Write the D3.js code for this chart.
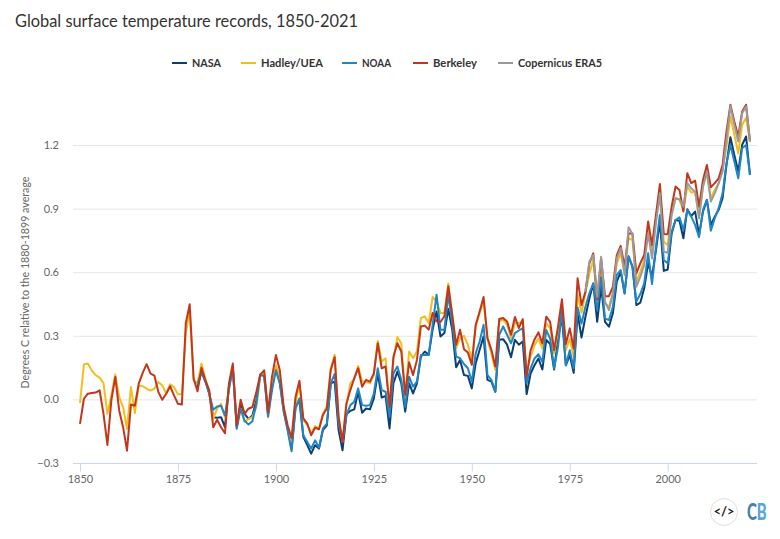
<!DOCTYPE html>
<html><head><meta charset="utf-8">
<script src="https://cdn.jsdelivr.net/npm/d3@7/dist/d3.min.js"></script>
<style>html,body{margin:0;padding:0;background:#fff}svg{display:block}text{font-family:Lato,"Open Sans",sans-serif}</style>
</head><body><svg id="c" width="780" height="539"></svg>
<script>
const title = "Global surface temperature records, 1850-2021";
const yAxisLabel = "Degrees C relative to the 1880-1899 average";
const seriesNames = ["NASA","Hadley/UEA","NOAA","Berkeley","Copernicus ERA5"];
const seriesColors = ["#0b3f73","#f2bd1d","#1e86c6","#c4361c","#9a9a9a"];
const seriesStart = [1880,1850,1880,1850,1979];
const xTicks = [1850,1875,1900,1925,1950,1975,2000];
const yTicks = [-0.3,0,0.3,0.6,0.9,1.2];

const nasa = [.058,.13,.09,.027,-.084,-.087,-.084,-.131,.058,.145,-.131,-.021,-.068,-.092,-.076,-.005,.114,.114,-.068,.058,
.145,.082,-.052,-.139,-.234,-.036,-.003,-.177,-.216,-.256,-.216,-.232,-.145,-.122,.076,.084,-.145,-.24,-.07,-.054,
-.047,.036,-.063,-.043,-.047,.005,.123,.009,.016,-.137,.076,.131,.076,-.058,.076,.028,.076,.202,.226,.21,
.329,.415,.297,.313,.427,.329,.152,.186,.115,.111,.052,.171,.234,.297,.092,.084,.036,.281,.284,.258,
.199,.281,.258,.273,.025,.122,.161,.193,.141,.28,.261,.141,.287,.39,.161,.209,.125,.406,.292,.39,
.476,.547,.366,.531,.366,.343,.406,.555,.602,.5,.673,.626,.445,.456,.524,.642,.579,.705,.839,.606,
.613,.783,.846,.843,.76,.897,.865,.886,.776,.886,.941,.823,.862,.894,.949,1.106,1.237,1.153,1.075,1.201,1.24,1.059];

const hadley = [-.017,.166,.169,.137,.114,.103,.077,-.068,.019,.118,.011,-.036,-.139,.058,-.065,.065,.062,.051,.041,.051,
.082,.066,.027,.071,.058,.024,.024,.311,.422,.09,.077,.169,.098,.027,-.092,-.044,-.021,-.084,.058,.161,
-.115,-.044,-.107,-.092,-.084,-.036,.106,.13,-.084,.074,.161,.106,-.052,-.131,-.202,-.021,.076,-.098,-.122,-.16,
-.126,-.137,-.066,-.035,.147,.21,-.09,-.2,-.027,.076,.095,.158,.084,.084,.076,.115,.276,.179,.194,-.043,
.186,.294,.265,.013,.226,.194,.226,.384,.392,.36,.483,.463,.408,.408,.547,.4,.242,.289,.3,.258,
.186,.344,.408,.463,.281,.218,.139,.368,.376,.352,.289,.36,.36,.368,.123,.201,.256,.287,.24,.358,
.335,.217,.319,.453,.232,.287,.201,.492,.409,.5,.594,.657,.468,.61,.453,.437,.5,.642,.689,.594,
.76,.752,.555,.602,.657,.799,.705,.854,.972,.744,.728,.878,.949,.941,.894,1.004,.976,.98,.862,1.004,
1.067,.949,.988,1.02,1.083,1.193,1.335,1.248,1.161,1.295,1.327,1.217];

const noaa = [.074,.13,.082,.027,-.049,-.033,-.03,-.076,.043,.153,-.139,-.044,-.1,-.118,-.103,-.021,.118,.109,-.081,.043,
.137,.074,-.06,-.147,-.245,-.044,.005,-.169,-.201,-.232,-.193,-.227,-.137,-.114,.076,.12,-.114,-.193,-.074,-.027,
-.011,.052,-.027,-.03,-.027,.028,.147,.044,.036,-.082,.123,.155,.092,-.035,.107,.06,.084,.21,.21,.21,
.352,.494,.329,.329,.494,.36,.202,.194,.167,.147,.084,.218,.273,.352,.115,.092,.036,.305,.344,.305,
.265,.313,.325,.336,.076,.146,.193,.213,.177,.327,.287,.146,.248,.421,.161,.232,.146,.434,.358,.437,
.5,.547,.421,.576,.382,.374,.437,.587,.61,.5,.676,.626,.461,.497,.547,.689,.544,.72,.87,.657,
.642,.791,.846,.859,.799,.894,.862,.823,.765,.894,.941,.796,.854,.902,.972,1.114,1.2,1.122,1.043,1.185,1.2,1.059];

const berkeley = [-.115,.003,.027,.03,.032,.043,-.068,-.215,-.005,.106,-.052,-.131,-.242,-.024,-.03,.074,.125,.166,.122,.112,
.035,-.002,.027,.062,.019,-.021,-.024,.359,.449,.098,.038,.149,.09,.043,-.131,-.096,-.131,-.16,.074,.169,
-.123,-.002,-.068,-.044,-.036,.035,.117,.137,-.06,.106,.209,.137,-.036,-.123,-.182,.011,.088,-.09,-.114,-.169,
-.134,-.141,-.074,-.043,.139,.199,-.082,-.201,-.019,.044,.1,.147,.06,.092,.084,.123,.265,.147,.155,-.035,
.202,.265,.226,.021,.175,.115,.186,.344,.348,.329,.408,.368,.365,.392,.534,.4,.258,.329,.237,.221,
.163,.352,.415,.483,.289,.234,.155,.379,.384,.368,.305,.389,.336,.379,.107,.232,.283,.316,.264,.39,
.366,.232,.343,.472,.261,.335,.24,.571,.445,.508,.642,.689,.472,.665,.487,.487,.531,.681,.724,.626,
.783,.783,.594,.642,.681,.839,.728,.87,1.016,.78,.779,.909,1.004,.988,.886,1.067,1.02,1.032,.909,1.035,
1.106,1.001,1.02,1.043,1.106,1.264,1.39,1.311,1.24,1.358,1.39,1.217];

const era5 = [.508,.65,.681,.484,.673,.461,.421,.5,.665,.713,.587,.812,.78,.531,.579,.634,.783,.665,.831,.972,
.697,.692,.87,.949,.944,.909,1.02,.996,.98,.854,1.004,1.075,.933,.972,1.02,1.075,1.224,1.385,1.295,1.217,1.35,1.382,1.217];

const seriesValues = [nasa,hadley,noaa,berkeley,era5];

const svg = d3.select("#c");
const x = d3.scaleLinear().domain([1850,2021]).range([80,750]);
const y = d3.scaleLinear().domain([-0.3,1.2]).range([463,145]);

svg.append("text").attr("x",15).attr("y",27).attr("font-size",18).attr("fill","#333")
  .attr("textLength",343).attr("lengthAdjust","spacingAndGlyphs").text(title);

// y axis + grid
const gy = svg.append("g").attr("transform","translate(73,0)")
  .call(d3.axisLeft(y).tickValues(yTicks).tickSize(0).tickPadding(14).tickFormat(d3.format(".1f")));
gy.select(".domain").remove();
gy.selectAll("text").attr("font-size",11).attr("fill","#666").attr("font-family","Lato");
svg.append("g").selectAll("line").data(yTicks.filter(d=>d>-0.3)).join("line")
  .attr("x1",73).attr("x2",757).attr("y1",d=>y(d)+.5).attr("y2",d=>y(d)+.5)
  .attr("stroke","#e6e6e6").attr("stroke-width",1);

// x axis
const gx = svg.append("g").attr("transform","translate(0,463.5)")
  .call(d3.axisBottom(x).tickValues(xTicks).tickSize(8).tickPadding(4).tickFormat(d3.format("d")));
gx.select(".domain").attr("d","M73,0H757").attr("stroke","#ccd6eb");
gx.selectAll(".tick line").attr("stroke","#ccd6eb");
gx.selectAll("text").attr("font-size",11).attr("fill","#666").attr("font-family","Lato");

svg.append("text").attr("transform","translate(29,282.5) rotate(-90)").attr("text-anchor","middle")
  .attr("font-size",11).attr("fill","#666").attr("textLength",212).attr("lengthAdjust","spacingAndGlyphs").text(yAxisLabel);

// lines
const line = d3.line().x(d=>x(d[0])).y(d=>y(d[1]));
seriesValues.forEach((vals,i)=>{
  const pts = vals.map((v,k)=>[seriesStart[i]+k,v]);
  svg.append("path").attr("d",line(pts)).attr("fill","none")
    .attr("stroke",seriesColors[i]).attr("stroke-width",2).attr("stroke-linejoin","round");
});

// legend
const legendX = [172,241,342,413,498];
const legendW = [29,62,29,44,84];
seriesNames.forEach((n,i)=>{
  svg.append("line").attr("x1",legendX[i]).attr("x2",legendX[i]+15).attr("y1",63).attr("y2",63)
    .attr("stroke",seriesColors[i]).attr("stroke-width",2);
  svg.append("text").attr("x",legendX[i]+20).attr("y",67).attr("font-size",11.5).attr("font-weight",700)
    .attr("fill","#333").attr("textLength",legendW[i]).attr("lengthAdjust","spacingAndGlyphs").text(n);
});

// logo
const logo = svg.append("g");
logo.append("circle").attr("cx",724).attr("cy",512).attr("r",13.5).attr("fill","#fff").attr("stroke","#e5dcdc");
logo.append("text").attr("x",724).attr("y",516).attr("text-anchor","middle").attr("font-size",13).attr("font-weight",700)
  .attr("fill","#222").text("</>");
// One text, squeezed with a transform so its box stays as narrow as the glyphs.
const cb = logo.append("text").attr("transform","translate(747,520) scale(0.68,1)")
  .attr("font-size",22).attr("font-weight",900).attr("font-family","Roboto");
cb.append("tspan").attr("fill","#4a7fb0").text("C");
cb.append("tspan").attr("fill","#5aa5dc").text("B");
</script></body></html>
